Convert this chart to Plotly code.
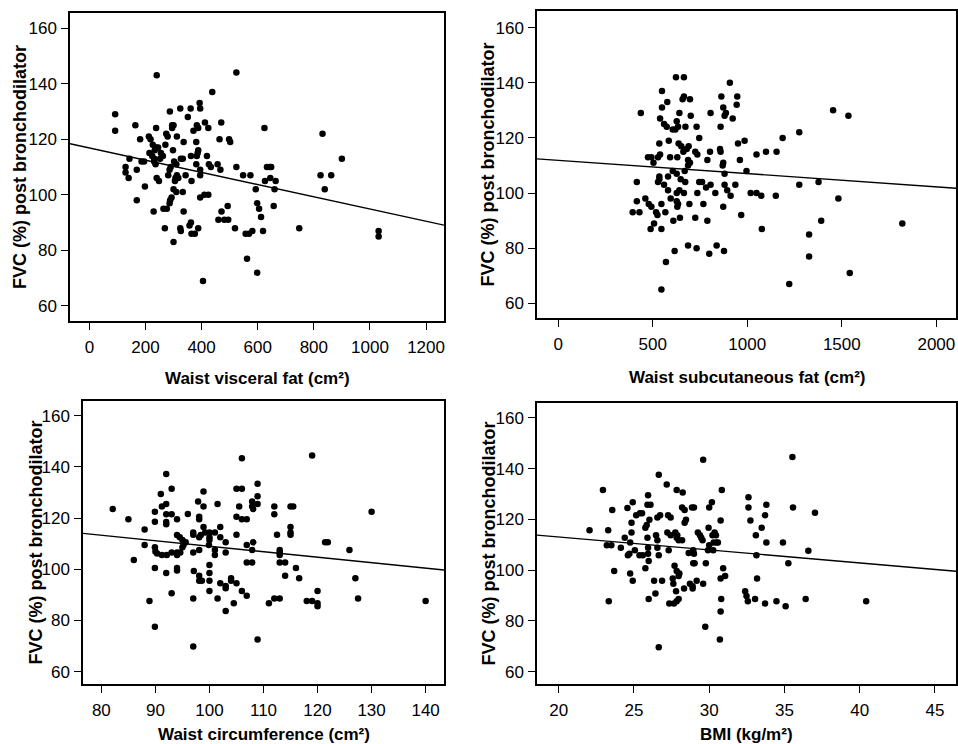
import plotly.graph_objects as go

W, H = 958, 744

# ---------------- data ----------------
visceral_x = [92, 92, 240, 524, 438, 393, 395, 324, 361, 287, 351, 164, 238, 295, 300, 295, 383, 388, 371,
              412, 424, 470, 624, 274, 279, 312, 181, 212, 218, 336, 381, 464, 498, 502, 831, 900, 824, 862,
              839, 129, 129, 143, 140, 169, 186, 195, 198, 169, 229, 269, 300, 324, 326, 362, 357, 364, 376,
              388, 336, 264, 276, 288, 293, 286, 300, 310, 333, 395, 410, 424, 405, 460, 471, 481, 495, 493,
              519, 557, 569, 581, 562, 598, 619, 598, 605, 612, 593, 657, 633, 643, 648, 626, 645, 664, 660,
              748, 1031, 1031, 524, 548, 574, 457, 467, 419, 426, 433, 395, 395, 381, 383, 388, 386, 362, 364,
              343, 326, 333, 310, 302, 312, 307, 317, 305, 290, 286, 298, 271, 281, 255, 262, 252, 240, 233,
              245, 226, 214, 224, 231, 236, 231, 240, 248]
visceral_y = [129, 123, 143, 144, 137, 133, 131, 131, 131, 130, 128, 125, 124, 125, 125, 124, 125, 124, 123,
              126, 124, 126, 124, 122, 121, 121, 120, 121, 120, 119, 119, 120, 120, 119, 122, 113, 107, 107,
              102, 110, 108, 113, 106, 109, 112, 112, 103, 98, 94, 88, 83, 88, 87, 90, 89, 86, 86,
              88, 94, 95, 95, 98, 99, 97, 102, 101, 101, 99, 100, 100, 69, 91, 94, 91, 91, 96,
              88, 86, 86, 87, 77, 72, 87, 97, 95, 92, 102, 96, 110, 110, 110, 105, 106, 105, 102,
              88, 87, 85, 110, 107, 107, 111, 109, 114, 111, 110, 109, 107, 111, 114, 116, 115, 114, 105,
              107, 113, 113, 111, 112, 107, 106, 106, 105, 110, 109, 116, 118, 107, 115, 114, 113, 117, 116,
              117, 118, 115, 114, 113, 111, 112, 106, 105]

subcut_x = [437, 549, 549, 577, 623, 665, 658, 665, 697, 641, 701, 806, 863, 908, 947, 944, 873, 887, 880,
            923, 539, 560, 574, 627, 634, 620, 606, 673, 732, 859, 746, 585, 535, 637, 651, 680, 690, 725,
            736, 662, 630, 592, 539, 528, 475, 493, 504, 687, 697, 687, 789, 803, 856, 859, 873, 870, 951,
            986, 961, 996, 1049, 1099, 1155, 1187, 1275, 1454, 1535, 1377, 1275, 1482, 1391, 1327, 1327,
            1222, 1542, 1820, 1018, 1049, 1074, 1151, 1077, 968, 937, 912, 894, 880, 880, 873, 831, 806,
            782, 746, 761, 736, 768, 789, 725, 694, 665, 641, 627, 627, 634, 630, 595, 609, 644, 672, 648,
            669, 627, 606, 581, 560, 581, 535, 528, 535, 416, 416, 461, 479, 493, 394, 430, 518, 525, 546,
            567, 507, 489, 546, 616, 570, 546, 687, 732, 799, 838, 877]
subcut_y = [129, 137, 131, 133, 142, 142, 134, 135, 134, 129, 128, 129, 135, 140, 135, 132, 131, 129, 128,
            127, 127, 125, 124, 126, 124, 123, 123, 124, 124, 124, 120, 119, 118, 118, 117, 116, 117, 115,
            114, 115, 113, 113, 114, 113, 113, 113, 111, 112, 111, 110, 112, 115, 116, 115, 111, 110, 118,
            119, 112, 108, 114, 115, 115, 120, 122, 130, 128, 104, 103, 98, 90, 85, 77,
            67, 71, 89, 100, 100, 99, 99, 87, 92, 103, 99, 101, 103, 107, 95, 100, 103,
            102, 104, 104, 100, 96, 90, 91, 96, 100, 101, 100, 97, 96, 95, 98, 90, 91, 104, 105,
            108, 107, 108, 106, 103, 101, 106, 104, 105, 104, 97, 98, 96, 95, 93, 93, 93, 92, 96,
            93, 89, 87, 87, 79, 75, 65, 81, 80, 78, 81, 79]

waist_x = [82.1, 85.0, 86.0, 88.0, 88.0, 88.9, 89.9, 89.9, 89.9, 89.9, 90.0, 90.3, 89.9, 91.0, 91.2, 92.0,
           92.0, 92.0, 92.0, 92.0, 91.2, 92.1, 92.0, 93.0, 93.0, 93.0, 93.0, 94.0, 94.0, 94.5, 94.0, 94.0,
           94.6, 94.0, 94.0, 95.0, 95.0, 95.2, 95.6, 96.0, 97.0, 97.0, 97.0, 97.1, 97.0, 97.0, 97.9, 98.1,
           98.1, 98.1, 98.4, 98.1, 98.1, 98.1, 98.6, 98.9, 98.9, 98.9, 99.2, 100.0, 100.0, 100.0, 99.9,
           100.0, 100.0, 100.0, 100.0, 101.5, 101.0, 102.0, 102.0, 101.0, 101.0, 102.0, 101.5, 103.0, 103.0,
           103.0, 103.0, 103.0, 104.0, 104.0, 105.0, 104.5, 105.0, 106.0, 105.5, 105.0, 105.0, 106.0, 106.0,
           106.9, 106.0, 106.9, 106.9, 107.9, 106.9, 107.9, 107.9, 108.1, 108.1, 107.9, 108.9, 108.9, 108.9,
           108.9, 111.0, 112.0, 112.0, 112.0, 113.0, 112.5, 113.0, 113.0, 113.0, 113.0, 114.0, 114.0, 115.0,
           115.5, 115.0, 115.0, 115.0, 116.0, 116.6, 118.0, 119.0, 119.0, 120.0, 120.0, 120.0, 121.4, 121.9,
           125.9, 127.0, 127.5, 130.0, 140.0]
waist_y = [123.5, 119.5, 103.6, 115.5, 109.5, 87.6, 77.6, 122.5, 118.6, 108.6, 106.9, 106.2, 100.5, 129.4,
           124.5, 137.2, 125.5, 121.5, 118.5, 117.6, 105.6, 105.6, 98.5, 131.4, 121.5, 106.5, 90.6, 119.5,
           113.4, 112.5, 106.5, 105.6, 106.5, 100.5, 99.5, 111.4, 108.6, 109.5, 110.5, 121.6, 114.4, 113.5,
           106.5, 99.3, 88.6, 69.8, 126.5, 120.5, 119.5, 112.5, 113.4, 107.5, 97.5, 95.5, 95.5, 130.4, 124.5,
           116.5, 114.4, 114.4, 112.5, 111.4, 109.5, 101.7, 98.5, 95.5, 91.5, 125.5, 114.4, 116.5, 112.5,
           107.5, 105.6, 94.5, 88.6, 110.5, 106.5, 93.5, 92.6, 83.7, 96.5, 95.5, 94.5, 86.7, 131.4, 131.4,
           124.5, 120.5, 113.5, 143.3, 119.5, 119.5, 91.5, 109.5, 102.6, 102.6, 89.7, 126.5, 124.5, 123.5,
           110.5, 107.5, 133.4, 128.5, 125.5, 72.6, 86.7, 124.5, 121.5, 88.6, 88.6, 113.5, 107.5, 106.5,
           105.6, 102.6, 102.6, 97.5, 124.5, 124.5, 116.5, 114.4, 113.5, 100.5, 96.5, 87.6, 87.6, 144.4,
           91.5, 86.7, 85.6, 110.5, 110.5, 107.5, 96.5, 88.6, 122.5, 87.6]

bmi_x = [22.05, 22.94, 23.29, 23.2, 23.5, 23.56, 23.33, 23.69, 24.13, 24.39, 24.57, 24.92, 24.84, 24.84,
         24.75, 24.7, 24.6, 24.75, 24.92, 25.15, 25.4, 25.54, 25.06, 25.37, 25.59, 25.76, 25.85, 26.03,
         25.94, 25.9, 26.1, 25.9, 25.94, 25.94, 25.98, 25.76, 25.98, 26.34, 26.43, 26.65, 26.56, 26.74,
         26.47, 26.56, 26.56, 26.65, 26.87, 26.65, 27.18, 27.27, 27.44, 27.22, 27.44, 27.31, 27.35, 27.66,
         27.62, 27.58, 27.84, 28.24, 27.75, 27.88, 27.84, 27.97, 27.7, 27.84, 28.02, 27.97, 27.8, 27.84,
         27.97, 28.2, 28.37, 28.46, 28.37, 28.2, 28.33, 28.64, 28.94, 28.99, 28.86, 28.99, 28.72, 28.9,
         28.9, 28.94, 29.03, 29.17, 29.25, 29.39, 29.47, 29.56, 29.6, 29.6, 29.78, 29.74, 29.92, 30.0,
         29.96, 30.0, 30.18, 30.22, 30.3, 30.36, 30.45, 30.27, 30.49, 30.58, 30.76, 30.84, 30.76, 31.06,
         30.93, 30.8, 30.76, 30.71, 32.39, 32.48, 32.57, 32.61, 32.61, 32.74, 33.1, 33.14, 33.18, 33.05,
         33.49, 33.71, 33.8, 33.8, 33.71, 34.47, 34.9, 35.08, 35.26, 35.53, 35.57, 36.41, 36.59, 37.03,
         40.43]
bmi_y = [115.7, 131.6, 115.7, 109.8, 109.8, 123.7, 87.8, 99.7, 108.8, 112.8, 124.5, 126.7, 118.7, 114.8,
         110.9, 106.5, 105.9, 98.7, 95.8, 121.6, 122.4, 122.4, 107.8, 105.9, 105.9, 116.7, 117.8, 119.8,
         129.5, 125.8, 125.8, 112.8, 108.8, 106.5, 103.6, 100.8, 88.7, 95.8, 90.8, 137.6, 120.7, 121.6,
         113.7, 111.8, 108.8, 105.9, 95.8, 69.7, 133.7, 121.6, 120.7, 114.8, 113.7, 107.8, 86.9, 86.9,
         94.7, 96.7, 131.6, 130.6, 114.8, 113.7, 112.8, 111.8, 101.7, 99.7, 98.7, 97.7, 91.7, 87.8,
         88.7, 124.7, 123.7, 119.8, 118.7, 111.8, 92.8, 106.8, 107.8, 106.5, 124.7, 124.7, 94.7, 93.7,
         92.8, 102.7, 102.7, 95.8, 114.8, 113.7, 112.8, 111.8, 94.7, 143.5, 102.7, 77.7, 107.8, 109.8,
         116.7, 124.7, 126.7, 113.7, 110.9, 114.8, 113.7, 107.8, 110.9, 110.9, 119.6, 131.6, 96.7, 97.7,
         100.8, 88.7, 83.7, 72.7, 91.7, 89.8, 87.8, 128.7, 124.7, 119.6, 113.7, 105.9, 96.7, 88.7,
         116.7, 121.6, 125.8, 110.9, 86.9, 87.8, 110.9, 85.8, 102.7, 144.5, 124.7, 88.7, 107.6, 122.6,
         87.8]

# fitted regression lines (intercept, slope)
fit_intercepts = [116.88, 111.86, 130.39, 123.27]
fit_slopes = [-0.02198, -0.0048, -0.214, -0.51]

x_titles = ["Waist visceral fat (cm²)", "Waist subcutaneous fat (cm²)",
            "Waist circumference (cm²)", "BMI (kg/m²)"]
y_title = "FVC (%) post bronchodilator"
x_ticks = [[0, 200, 400, 600, 800, 1000, 1200], [0, 500, 1000, 1500, 2000],
           [80, 90, 100, 110, 120, 130, 140], [20, 25, 30, 35, 40, 45]]
y_ticks = [60, 80, 100, 120, 140, 160]

# ---------------- layout ----------------
x_ranges = [[-69, 1264], [-112, 2104], [76.6, 143.4], [18.56, 46.4]]
y_ranges = [[54.6, 165.4], [54.7, 166.0], [55.2, 165.7], [55.2, 165.8]]
# frames in pixels: left, right, top, bottom
frames = [(70, 444, 13, 321), (537, 956, 11, 318), (83, 444, 401, 684), (537, 956, 403, 684)]
ytitle_x = [20, 488, 35, 488]
xtitle_y = [378, 377, 734, 734]

FONT = "Liberation Sans, Arial, sans-serif"
fig = go.Figure()
xs = [visceral_x, subcut_x, waist_x, bmi_x]
ys = [visceral_y, subcut_y, waist_y, bmi_y]

annotations = []
for i in range(4):
    sfx = "" if i == 0 else str(i + 1)
    l, r, t, b = frames[i]
    fig.add_trace(go.Scatter(x=xs[i], y=ys[i], mode="markers",
                             marker=dict(color="black", size=6.5),
                             xaxis="x" + sfx, yaxis="y" + sfx, showlegend=False))
    x0, x1 = x_ranges[i]
    lx = [x0, x1]
    ly = [fit_intercepts[i] + fit_slopes[i] * v for v in lx]
    fig.add_trace(go.Scatter(x=lx, y=ly, mode="lines", line=dict(color="black", width=1.4),
                             xaxis="x" + sfx, yaxis="y" + sfx, showlegend=False))
    axcommon = dict(showline=True, linecolor="black", linewidth=1.5, mirror=True,
                    showgrid=False, zeroline=False, ticks="outside", ticklen=7,
                    tickwidth=1.2, tickcolor="black",
                    tickfont=dict(family=FONT, size=17, color="black"))
    fig.update_layout(**{
        "xaxis" + sfx: dict(domain=[l / W, r / W], range=x_ranges[i], tickvals=x_ticks[i],
                            anchor="y" + sfx, ticklabelstandoff=3, **axcommon),
        "yaxis" + sfx: dict(domain=[1 - b / H, 1 - t / H], range=y_ranges[i], tickvals=y_ticks,
                            anchor="x" + sfx, ticklabelstandoff=1, **axcommon),
    })
    annotations.append(dict(text="<b>" + x_titles[i] + "</b>", xref="paper", yref="paper",
                            x=(l + r) / 2 / W, y=1 - xtitle_y[i] / H, showarrow=False,
                            xanchor="center", yanchor="middle",
                            font=dict(family=FONT, size=17, color="black")))
    annotations.append(dict(text="<b>" + y_title + "</b>", xref="paper", yref="paper",
                            x=ytitle_x[i] / W, y=1 - (t + b) / 2 / H, showarrow=False,
                            textangle=-90, xanchor="center", yanchor="middle",
                            font=dict(family=FONT, size=18, color="black")))

fig.update_layout(width=W, height=H, margin=dict(l=0, r=0, t=0, b=0),
                  paper_bgcolor="white", plot_bgcolor="white",
                  annotations=annotations)
fig.write_html("out.html", config={"displayModeBar": False},
               post_script="document.body.style.margin='0px';document.body.style.overflow='hidden';")
